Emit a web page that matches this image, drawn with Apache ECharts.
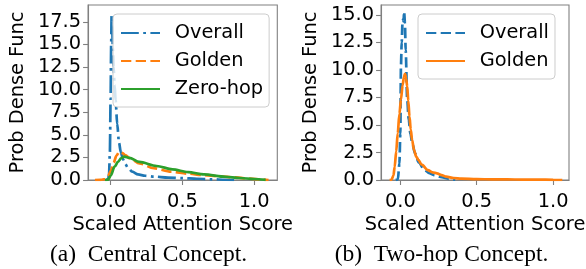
<!DOCTYPE html>
<html>
<head>
<meta charset="utf-8">
<script src="https://cdn.jsdelivr.net/npm/echarts@6/dist/echarts.min.js"></script>
<style>
  html, body { margin: 0; padding: 0; background: #fff; }
  #wrap { position: relative; width: 586px; height: 269px; }
  .panel { position: absolute; top: 0; width: 293px; height: 269px; }
</style>
</head>
<body>
<div id="wrap">
  <div id="centralChart" class="panel" style="left:0"></div>
  <div id="twoHopChart" class="panel" style="left:293px"></div>
</div>
<script>
// 刻度
var xTicks = [0, 0.5, 1.0];
var yTicksCentral = [0, 2.5, 5, 7.5, 10, 12.5, 15, 17.5];
var yTicksTwoHop = [0, 2.5, 5, 7.5, 10, 12.5, 15];

// (a) Central Concept
var centralOverallX = [-0.03, -0.018, -0.012, -0.006, -0.001, 0.003, 0.006, 0.01, 0.015, 0.02, 0.027, 0.034, 0.045, 0.058, 0.07, 0.085, 0.1, 0.12, 0.15, 0.19, 0.24, 0.3, 0.4, 0.5, 0.6, 0.7, 0.8, 0.86];
var centralOverallY = [0, 0.1, 0.6, 3, 9, 15, 18.2, 17, 14.5, 12.5, 10.5, 8.8, 6.2, 4.1, 3.1, 2.3, 1.8, 1.35, 0.92, 0.62, 0.47, 0.38, 0.27, 0.2, 0.14, 0.08, 0.03, 0];
var centralGoldenX = [-0.11, -0.07, -0.04, -0.02, 0.0, 0.02, 0.04, 0.06, 0.08, 0.1, 0.14, 0.2, 0.3, 0.42, 0.54, 0.64, 0.76, 0.87, 0.97, 1.05, 1.1];
var centralGoldenY = [0, 0.02, 0.1, 0.4, 1.0, 1.9, 2.7, 3.13, 3.0, 2.75, 2.35, 1.84, 1.3, 0.92, 0.7, 0.55, 0.4, 0.28, 0.15, 0.05, 0];
var centralZeroHopX = [-0.04, -0.017, 0.0, 0.027, 0.05, 0.072, 0.095, 0.13, 0.2, 0.32, 0.43, 0.54, 0.65, 0.8, 0.9, 1.0, 1.08];
var centralZeroHopY = [0, 0.05, 0.5, 1.47, 2.0, 2.4, 2.58, 2.45, 2.0, 1.55, 1.18, 0.88, 0.62, 0.36, 0.22, 0.11, 0.02];

// (b) Two-hop Concept
var twoHopOverallX = [-0.03, -0.016, -0.006, 0.0, 0.004, 0.009, 0.014, 0.018, 0.021, 0.025, 0.03, 0.035, 0.045, 0.055, 0.066, 0.08, 0.097, 0.12, 0.159, 0.19, 0.22, 0.27, 0.32, 0.36];
var twoHopOverallY = [0, 0.05, 1.5, 4.2, 10.3, 12.5, 14.2, 14.6, 14.4, 15.3, 14.3, 11.8, 7.3, 5.5, 4.2, 3.2, 2.4, 1.6, 0.9, 0.62, 0.45, 0.25, 0.1, 0.02];
var twoHopGoldenX = [-0.07, -0.058, -0.045, -0.037, -0.027, -0.017, -0.006, 0.004, 0.015, 0.024, 0.031, 0.038, 0.045, 0.052, 0.06, 0.068, 0.077, 0.09, 0.105, 0.118, 0.14, 0.18, 0.21, 0.24, 0.27, 0.3, 0.35, 0.4, 0.5, 0.6, 0.7, 0.8, 0.9, 1.0, 1.06];
var twoHopGoldenY = [0, 0.02, 0.4, 1.2, 2.6, 4.24, 6.0, 7.3, 8.6, 9.4, 9.64, 9.2, 8.5, 7.2, 5.76, 4.6, 3.64, 2.7, 2.1, 1.82, 1.4, 0.9, 0.7, 0.6, 0.45, 0.3, 0.18, 0.12, 0.08, 0.06, 0.05, 0.04, 0.03, 0.02, 0];

var BLUE = '#1f77b4', ORANGE = '#ff7f0e', GREEN = '#2ca02c';
var SPINE = '#808080';
var FONT = 'DejaVu Sans';
var FS = 19.4;
var LW = 2.7;
var DASH = [10.3, 4.4];
var DASHDOT = [17.8, 4.4, 2.8, 4.4];

function pairs(xs, ys) {
    return xs.map(function (x, i) { return [x, ys[i]]; });
}

function lineSeries(name, xs, ys, color, type) {
    return {
        name: name,
        type: 'line',
        data: pairs(xs, ys),
        showSymbol: false,
        symbol: 'none',
        smooth: 0.3,
        smoothMonotone: 'x',
        color: color,
        lineStyle: { color: color, width: LW, type: type },
        animation: false
    };
}

function makeOption(cfg) {
    return {
        animation: false,
        grid: {
            left: cfg.gridLeft, top: 5, width: cfg.gridWidth, height: 175,
            show: true, borderColor: SPINE, borderWidth: 1.1, backgroundColor: 'transparent'
        },
        legend: {
            orient: 'vertical',
            left: cfg.legendLeft, top: 14,
            data: cfg.legendData,
            itemWidth: 39, itemHeight: 20, itemGap: 8,
            padding: [9, 6, 8, 7],
            backgroundColor: 'rgba(255,255,255,0.8)',
            borderColor: '#cccccc', borderWidth: 1, borderRadius: 4,
            selectedMode: false,
            itemStyle: { opacity: 0 },
            // 图标和文字之间留出空隙 (en space)
            formatter: function (name) { return '\u2002' + name; },
            textStyle: { fontFamily: FONT, fontSize: FS, color: '#000', lineHeight: 20 }
        },
        xAxis: {
            type: 'value',
            min: cfg.xMin, max: cfg.xMax,
            name: 'Scaled Attention Score',
            nameLocation: 'middle', nameGap: 29,
            nameTextStyle: { fontFamily: FONT, fontSize: FS, color: '#000' },
            axisLine: { show: true, onZero: false, lineStyle: { color: SPINE, width: 1.1 } },
            axisTick: { show: true, inside: false, length: 5, customValues: xTicks, lineStyle: { color: SPINE, width: 1.1 } },
            axisLabel: {
                customValues: xTicks, margin: 12,
                fontFamily: FONT, fontSize: FS, color: '#000',
                formatter: function (v) { return v.toFixed(1); }
            },
            splitLine: { show: false }
        },
        yAxis: {
            type: 'value',
            min: 0, max: cfg.yMax,
            name: 'Prob Dense Func',
            nameLocation: 'middle', nameGap: cfg.yNameGap,
            nameTextStyle: { fontFamily: FONT, fontSize: FS, color: '#000' },
            axisLine: { show: true, onZero: false, lineStyle: { color: SPINE, width: 1.1 } },
            axisTick: { show: true, inside: false, length: 5, customValues: cfg.yTicks, lineStyle: { color: SPINE, width: 1.1 } },
            axisLabel: {
                customValues: cfg.yTicks, margin: 7,
                fontFamily: FONT, fontSize: FS, color: '#000',
                formatter: function (v) { return v.toFixed(1); }
            },
            splitLine: { show: false }
        },
        graphic: [{
            type: 'text',
            x: 148.5, y: 255,
            style: {
                text: cfg.caption,
                font: '23.5px "Liberation Serif"',
                fill: '#000',
                textAlign: 'center',
                textVerticalAlign: 'middle'
            }
        }],
        series: cfg.series
    };
}

var centralChart = echarts.init(document.getElementById('centralChart'));
centralChart.setOption(makeOption({
    gridLeft: 80.7, gridWidth: 196.6,
    xMin: -0.158, xMax: 1.161,
    yMax: 19.36, yTicks: yTicksCentral, yNameGap: 54,
    legendLeft: 113,
    legendData: ['Overall', 'Golden', 'Zero-hop'],
    caption: '(a)  Central Concept.',
    series: [
        lineSeries('Overall', centralOverallX, centralOverallY, BLUE, DASHDOT),
        lineSeries('Golden', centralGoldenX, centralGoldenY, ORANGE, DASH),
        lineSeries('Zero-hop', centralZeroHopX, centralZeroHopY, GREEN, 'solid')
    ]
}));

var twoHopChart = echarts.init(document.getElementById('twoHopChart'));
twoHopChart.setOption(makeOption({
    gridLeft: 77.7, gridWidth: 198.3,
    xMin: -0.126, xMax: 1.104,
    yMax: 15.9, yTicks: yTicksTwoHop, yNameGap: 54,
    legendLeft: 125,
    legendData: ['Overall', 'Golden'],
    caption: '(b)  Two-hop Concept.',
    series: [
        lineSeries('Overall', twoHopOverallX, twoHopOverallY, BLUE, DASH),
        lineSeries('Golden', twoHopGoldenX, twoHopGoldenY, ORANGE, 'solid')
    ]
}));
</script>
</body>
</html>
